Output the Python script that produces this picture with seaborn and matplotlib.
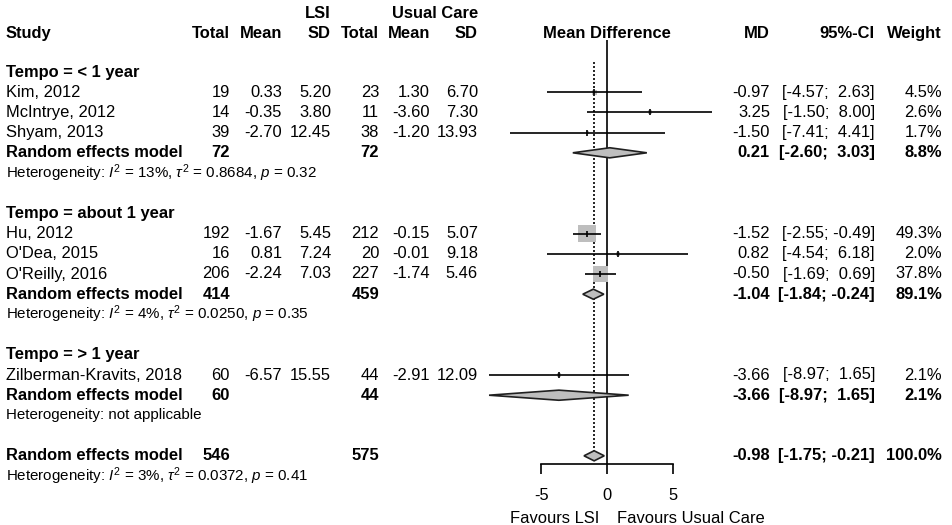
import numpy as np
import pandas as pd
import matplotlib
matplotlib.use("Agg")
import matplotlib.pyplot as plt
import seaborn as sns

# ---------------- data ----------------
studies = ["Kim, 2012", "McIntrye, 2012", "Shyam, 2013", "Hu, 2012",
           "O'Dea, 2015", "O'Reilly, 2016", "Zilberman-Kravits, 2018"]
groups = ["< 1 year", "< 1 year", "< 1 year", "about 1 year",
          "about 1 year", "about 1 year", "> 1 year"]
lsi_n = [19, 14, 39, 192, 16, 206, 60]
lsi_mean = [0.33, -0.35, -2.70, -1.67, 0.81, -2.24, -6.57]
lsi_sd = [5.20, 3.80, 12.45, 5.45, 7.24, 7.03, 15.55]
uc_n = [23, 11, 38, 212, 20, 227, 44]
uc_mean = [1.30, -3.60, -1.20, -0.15, -0.01, -1.74, -2.91]
uc_sd = [6.70, 7.30, 13.93, 5.07, 9.18, 5.46, 12.09]
md = [-0.97, 3.25, -1.50, -1.52, 0.82, -0.50, -3.66]
ci_lo = [-4.57, -1.50, -7.41, -2.55, -4.54, -1.69, -8.97]
ci_hi = [2.63, 8.00, 4.41, -0.49, 6.18, 0.69, 1.65]
weight = [4.5, 2.6, 1.7, 49.3, 2.0, 37.8, 2.1]

sub_names = ["< 1 year", "about 1 year", "> 1 year"]
sub_lsi_n = [72, 414, 60]
sub_uc_n = [72, 459, 44]
sub_md = [0.21, -1.04, -3.66]
sub_lo = [-2.60, -1.84, -8.97]
sub_hi = [3.03, -0.24, 1.65]
sub_w = [8.8, 89.1, 2.1]
sub_het = [r"Heterogeneity: $I^2$ = 13%, $\tau^2$ = 0.8684, $p$ = 0.32",
           r"Heterogeneity: $I^2$ = 4%, $\tau^2$ = 0.0250, $p$ = 0.35",
           "Heterogeneity: not applicable"]

all_lsi_n = 546
all_uc_n = 575
all_md = -0.98
all_lo = -1.75
all_hi = -0.21
all_w = 100.0
all_het = r"Heterogeneity: $I^2$ = 3%, $\tau^2$ = 0.0372, $p$ = 0.41"

x_ticks = [-5, 0, 5]
label_left = "Favours LSI"
label_right = "Favours Usual Care"

# ---------------- style ----------------
sns.set_theme(style="white")
plt.rcParams['font.family'] = ['Liberation Sans', 'DejaVu Sans']
plt.rcParams['mathtext.fontset'] = 'custom'
plt.rcParams['mathtext.rm'] = 'Liberation Sans'
plt.rcParams['mathtext.it'] = 'Liberation Sans:italic'
plt.rcParams['mathtext.bf'] = 'Liberation Sans:bold'
plt.rcParams['axes.unicode_minus'] = False

W, H = 952, 525
FS = 11.9
FS_HET = 10.9
LW = 1.2
fig = plt.figure(figsize=(W / 100, H / 100), dpi=100)
fig.patch.set_facecolor("white")

ROW0_PX, ROW_PX = 72, 20.2
ylim = ((H - ROW0_PX) / ROW_PX, -ROW0_PX / ROW_PX)

X0_PX, UNIT_PX = 607, 13.15
XL = (-10, 10)
left_px = X0_PX + XL[0] * UNIT_PX
width_px = (XL[1] - XL[0]) * UNIT_PX

axt = fig.add_axes([0, 0, 1, 1])
axt.set_xlim(0, W)
axt.set_ylim(*ylim)
axt.axis("off")

axf = fig.add_axes([left_px / W, 0, width_px / W, 1])
axf.set_xlim(*XL)
axf.set_ylim(*ylim)
axf.patch.set_alpha(0)

# ---------------- row layout ----------------
df = pd.DataFrame(dict(study=studies, group=groups, lsi_n=lsi_n, lsi_mean=lsi_mean,
                       lsi_sd=lsi_sd, uc_n=uc_n, uc_mean=uc_mean, uc_sd=uc_sd,
                       md=md, lo=ci_lo, hi=ci_hi, weight=weight))
df["row"] = np.nan
k = 0
header_rows, sub_rows, het_rows = [], [], []
for g in sub_names:
    header_rows.append(k)
    k += 1
    for i in df.index[df.group == g]:
        df.loc[i, "row"] = k
        k += 1
    sub_rows.append(k)
    k += 1
    het_rows.append(k)
    k += 1
    k += 1
overall_row = k
overall_het_row = k + 1
HEAD1, HEAD2 = -2.92, -1.93

COL = dict(study=6, lsi_n=230, lsi_mean=282, lsi_sd=331, uc_n=379, uc_mean=430,
           uc_sd=478, md=770, ci=875, w=942)


def put(x, r, s, ha="right", bold=False, size=FS):
    axt.text(x, r, s, ha=ha, va="center", fontsize=size, color="black",
             fontweight="bold" if bold else "normal")


def ci_text(lo, hi):
    return f"[{lo:.2f}; {hi:5.2f}]"


# headers
put(COL["lsi_sd"], HEAD1, "LSI", bold=True)
put(COL["uc_sd"], HEAD1, "Usual Care", bold=True)
put(COL["study"], HEAD2, "Study", ha="left", bold=True)
for c, t in [("lsi_n", "Total"), ("lsi_mean", "Mean"), ("lsi_sd", "SD"),
             ("uc_n", "Total"), ("uc_mean", "Mean"), ("uc_sd", "SD"),
             ("md", "MD"), ("ci", "95%-CI"), ("w", "Weight")]:
    put(COL[c], HEAD2, t, bold=True)
put(X0_PX, HEAD2, "Mean Difference", ha="center", bold=True)

# groups
for gi, g in enumerate(sub_names):
    put(COL["study"], header_rows[gi], f"Tempo = {g}", ha="left", bold=True)
    r = sub_rows[gi]
    put(COL["study"], r, "Random effects model", ha="left", bold=True)
    put(COL["lsi_n"], r, f"{sub_lsi_n[gi]}", bold=True)
    put(COL["uc_n"], r, f"{sub_uc_n[gi]}", bold=True)
    put(COL["md"], r, f"{sub_md[gi]:.2f}", bold=True)
    put(COL["ci"], r, ci_text(sub_lo[gi], sub_hi[gi]), bold=True)
    put(COL["w"], r, f"{sub_w[gi]:.1f}%", bold=True)
    put(COL["study"], het_rows[gi], sub_het[gi], ha="left", size=FS_HET)

for _, s in df.iterrows():
    r = s.row
    put(COL["study"], r, s.study, ha="left")
    put(COL["lsi_n"], r, f"{s.lsi_n}")
    put(COL["lsi_mean"], r, f"{s.lsi_mean:.2f}")
    put(COL["lsi_sd"], r, f"{s.lsi_sd:.2f}")
    put(COL["uc_n"], r, f"{s.uc_n}")
    put(COL["uc_mean"], r, f"{s.uc_mean:.2f}")
    put(COL["uc_sd"], r, f"{s.uc_sd:.2f}")
    put(COL["md"], r, f"{s.md:.2f}")
    put(COL["ci"], r, ci_text(s.lo, s.hi))
    put(COL["w"], r, f"{s.weight:.1f}%")

# overall
put(COL["study"], overall_row, "Random effects model", ha="left", bold=True)
put(COL["lsi_n"], overall_row, f"{all_lsi_n}", bold=True)
put(COL["uc_n"], overall_row, f"{all_uc_n}", bold=True)
put(COL["md"], overall_row, f"{all_md:.2f}", bold=True)
put(COL["ci"], overall_row, ci_text(all_lo, all_hi), bold=True)
put(COL["w"], overall_row, f"{all_w:.1f}%", bold=True)
put(COL["study"], overall_het_row, all_het, ha="left", size=FS_HET)

# ---------------- forest ----------------
GREY = "#BEBEBE"
AREA_PER_W = 3.2  # pt^2 per weight percent
wmin, wmax = min(weight), max(weight)
sns.scatterplot(data=df, x="md", y="row", size="weight",
                sizes=(AREA_PER_W * wmin, AREA_PER_W * wmax), size_norm=(wmin, wmax),
                marker="s", color=GREY, linewidth=0, legend=False, ax=axf, zorder=2)
axf.hlines(df.row, df.lo, df.hi, color="black", lw=LW, zorder=3)
axf.plot(df.md, df.row, ls="none", marker="|", ms=5, mew=LW, color="black", zorder=4)

HALF = 0.25
for gi in range(len(sub_names)):
    r = sub_rows[gi]
    axf.fill([sub_lo[gi], sub_md[gi], sub_hi[gi], sub_md[gi]], [r, r - HALF, r, r + HALF],
             facecolor=GREY, edgecolor="#202020", lw=LW, zorder=3)
axf.fill([all_lo, all_md, all_hi, all_md],
         [overall_row, overall_row - HALF, overall_row, overall_row + HALF],
         facecolor=GREY, edgecolor="#202020", lw=LW, zorder=3)

AXIS_ROW = overall_row + 0.4
axf.vlines(0, -1.58, AXIS_ROW, color="black", lw=LW, zorder=1)
axf.vlines(all_md, -0.5, overall_row - HALF, color="black", lw=LW,
           linestyles=(0, (1.2, 1.2)), zorder=1)

for sp in ["top", "left", "right"]:
    axf.spines[sp].set_visible(False)
axf.spines["bottom"].set_position(("data", AXIS_ROW))
axf.spines["bottom"].set_bounds(x_ticks[0], x_ticks[-1])
axf.spines["bottom"].set_color("black")
axf.spines["bottom"].set_linewidth(LW)
axf.set_xticks(x_ticks)
axf.set_xticklabels([str(t) for t in x_ticks])
axf.set_yticks([])
axf.set_xlabel("")
axf.set_ylabel("")
axf.tick_params(axis="x", bottom=True, direction="out", length=7.2, width=LW,
                pad=10, labelsize=FS, colors="black")

FAV_ROW = overall_row + 3.08
axf.text(-0.6, FAV_ROW, label_left, ha="right", va="center", fontsize=FS, color="black")
axf.text(0.76, FAV_ROW, label_right, ha="left", va="center", fontsize=FS, color="black")

fig.savefig("out.png", dpi=100, facecolor="white")
